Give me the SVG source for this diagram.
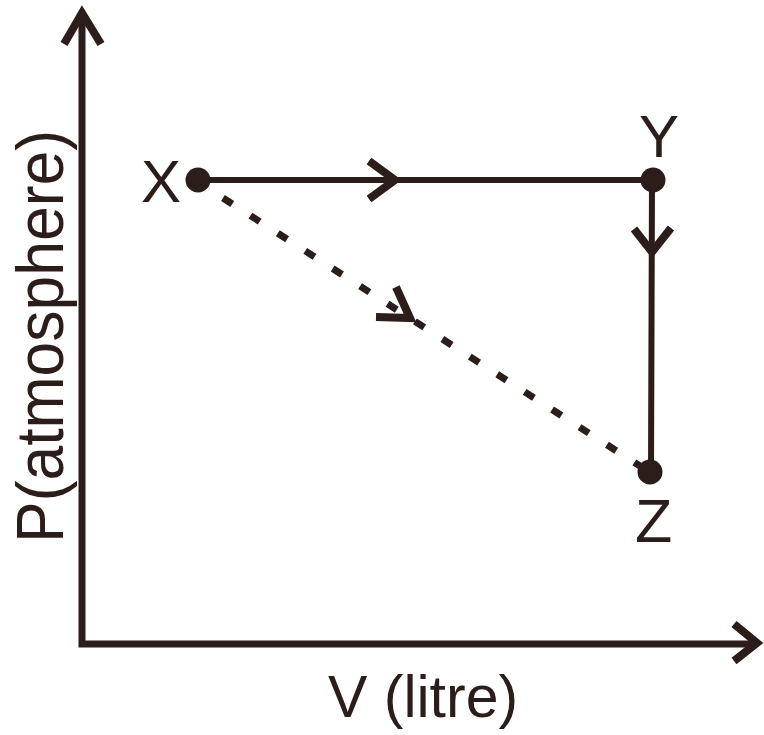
<svg xmlns="http://www.w3.org/2000/svg" width="764" height="735" viewBox="0 0 764 735">
<style>
.ln{stroke:#2b1d1a;fill:none;stroke-width:6;stroke-linecap:round;stroke-linejoin:miter}
.ax{stroke:#2b1d1a;fill:none;stroke-width:7;stroke-linecap:butt;stroke-linejoin:miter}
.hd{stroke:#2b1d1a;fill:none;stroke-width:8;stroke-linecap:butt;stroke-linejoin:miter}
.dot{fill:#2b1d1a}
.t{font-family:"Liberation Sans",Arial,sans-serif;fill:#2b1d1a}
</style>
<rect width="764" height="735" fill="#ffffff"/>
<g id="axes">
<path class="ax" d="M82,12 L82,644 L756,644"/>
<path class="hd" d="M64,44 L82,13 L101,44"/>
<path class="hd" d="M734,624 L757,643 L734,661"/>
<text class="t" x="328" y="717" font-size="59">V (litre)</text>
<text class="t" transform="translate(63,543) rotate(-90)" font-size="66" textLength="413" lengthAdjust="spacingAndGlyphs">P(atmosphere)</text>
</g>
<g id="connectors">
<line class="ln" x1="198" y1="180" x2="652" y2="180" stroke-width="5"/>
<path class="hd" d="M369,161 L395,180 L369,199" stroke-width="7"/>
<line class="ln" x1="652" y1="180" x2="651" y2="472" stroke-width="5"/>
<path class="hd" d="M634,229 L652,252 L671,228" stroke-width="7"/>
<line x1="223" y1="198" x2="640" y2="466" stroke="#2b1d1a" stroke-width="7" stroke-dasharray="11 21.6"/>
<path class="hd" d="M376,317 L410,318 L396,287" stroke-width="8"/>
</g>
<g id="node-X">
<circle class="dot" cx="198" cy="180" r="12.5"/>
<text class="t" x="141" y="202" font-size="60">X</text>
</g>
<g id="node-Y">
<circle class="dot" cx="653" cy="180" r="12.5"/>
<text class="t" x="639" y="157" font-size="60">Y</text>
</g>
<g id="node-Z">
<circle class="dot" cx="650" cy="472" r="12.5"/>
<text class="t" x="635" y="542" font-size="61">Z</text>
</g>
</svg>
